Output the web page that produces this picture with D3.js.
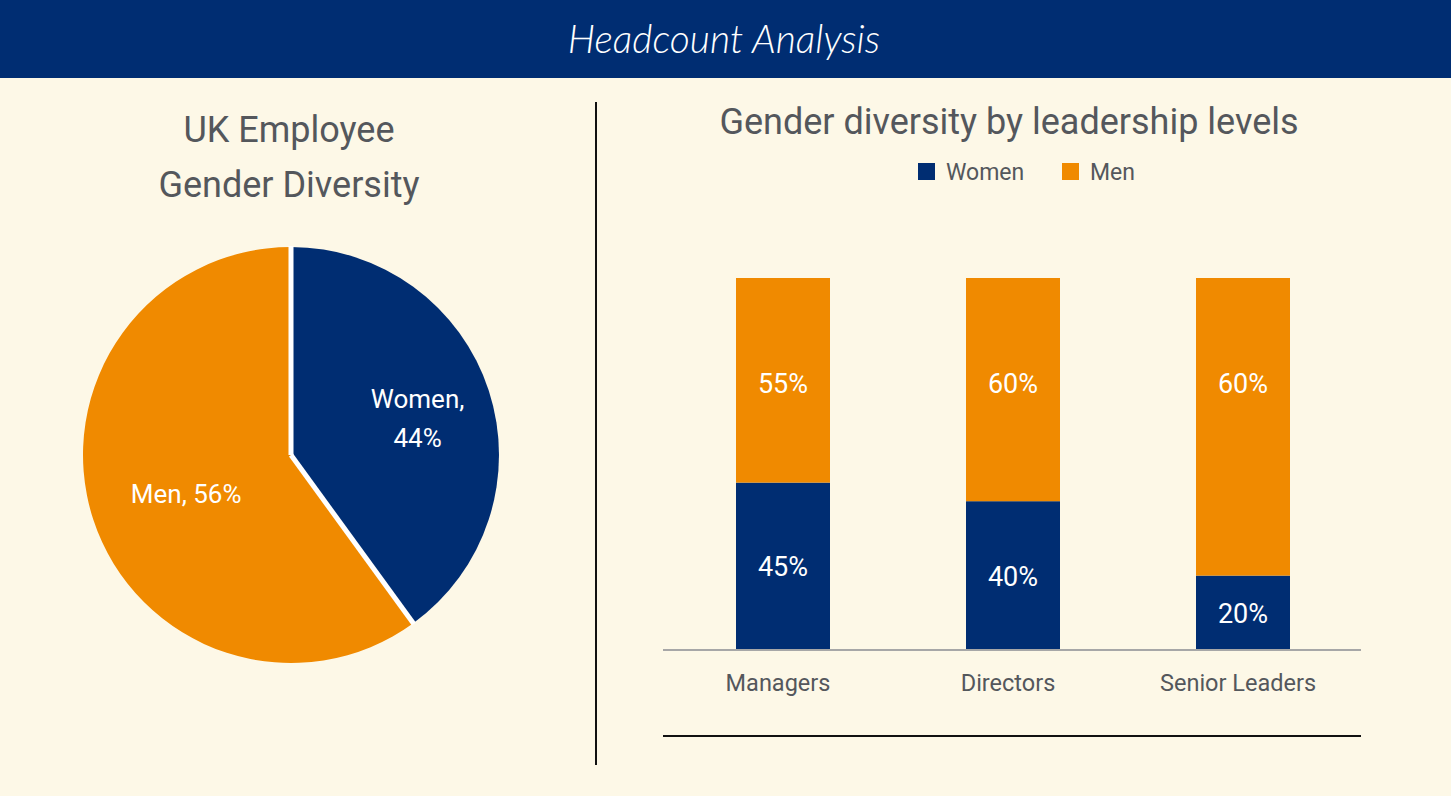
<!DOCTYPE html>
<html>
<head>
<meta charset="utf-8">
<script src="https://cdn.jsdelivr.net/npm/d3@7"></script>
<style>
  html, body { margin: 0; padding: 0; background: #fdf8e7; }
  svg { display: block; }
  text { font-family: Roboto, "Noto Sans", sans-serif; }
</style>
</head>
<body>
<svg id="chart" width="1451" height="796"></svg>
<script>
// pie: share drawn for each slice, and the labels shown on it
const pieNames = ["Women", "Men"];
const pieValues = [40, 60];
const pieLabels = [["Women,", "44%"], ["Men, 56%"]];

// stacked bars by leadership level
const levels = ["Managers", "Directors", "Senior Leaders"];
const women = [45, 40, 20];
const men = [55, 60, 80];
const womenLabels = ["45%", "40%", "20%"];
const menLabels = ["55%", "60%", "60%"];

const navy = "#002d72";
const orange = "#f08a00";
const grey = "#54575c";

const svg = d3.select("#chart");
const W = 1451, H = 796;

svg.append("rect").attr("width", W).attr("height", H).attr("fill", "#fdf8e7");

// header band
svg.append("rect").attr("x", 0).attr("y", 0).attr("width", W).attr("height", 78).attr("fill", navy);
svg.append("text")
  .attr("x", 724).attr("y", 53)
  .attr("text-anchor", "middle")
  .attr("fill", "#fff")
  .style("font-family", "Lato, sans-serif")
  .style("font-style", "italic")
  .style("font-weight", 300)
  .style("font-size", "39px")
  .text("Headcount Analysis");

// divider lines
svg.append("line").attr("x1", 596).attr("x2", 596).attr("y1", 102).attr("y2", 765)
  .attr("stroke", "#111").attr("stroke-width", 2);
svg.append("line").attr("x1", 663).attr("x2", 1361).attr("y1", 736).attr("y2", 736)
  .attr("stroke", "#111").attr("stroke-width", 2);

// ---- pie ----
const leftTitle = svg.append("text")
  .attr("text-anchor", "middle").attr("fill", grey).style("font-size", "36px");
leftTitle.append("tspan").attr("x", 289).attr("y", 142).text("UK Employee");
leftTitle.append("tspan").attr("x", 289).attr("y", 197).text("Gender Diversity");

const cx = 291, cy = 455, r = 208;
const pieData = pieNames.map((n, i) => ({ name: n, value: pieValues[i], label: pieLabels[i] }));
const pie = d3.pie().value(d => d.value).sort(null);
const arc = d3.arc().innerRadius(0).outerRadius(r);
const g = svg.append("g").attr("transform", `translate(${cx},${cy})`);
const arcs = pie(pieData);
g.selectAll("path").data(arcs).enter().append("path")
  .attr("d", arc)
  .attr("fill", (d, i) => i === 0 ? navy : orange);

// white separators between slices (none on the rim)
g.selectAll("line.sep").data(arcs).enter().append("line")
  .attr("class", "sep")
  .attr("x1", 0).attr("y1", 0)
  .attr("x2", d => Math.sin(d.startAngle) * (r + 1))
  .attr("y2", d => -Math.cos(d.startAngle) * (r + 1))
  .attr("stroke", "#fff").attr("stroke-width", 5);

const labelRadius = [0.64, 0.53];
arcs.forEach((d, i) => {
  const mid = (d.startAngle + d.endAngle) / 2;
  const lr = r * labelRadius[i];
  const c = [Math.sin(mid) * lr, -Math.cos(mid) * lr];
  const lines = d.data.label;
  const t = g.append("text").attr("text-anchor", "middle").attr("fill", "#fff").style("font-size", "26px");
  lines.forEach((ln, k) => {
    t.append("tspan").attr("x", c[0])
      .attr("y", c[1] + 14 + (k - (lines.length - 1) / 2) * 39)
      .text(ln);
  });
});

// ---- stacked bars ----
svg.append("text").attr("x", 1009).attr("y", 134).attr("text-anchor", "middle")
  .attr("fill", grey).style("font-size", "36px").text("Gender diversity by leadership levels");

// legend
const legend = [{ name: "Women", color: navy, x: 918 }, { name: "Men", color: orange, x: 1062 }];
legend.forEach(l => {
  svg.append("rect").attr("x", l.x).attr("y", 163).attr("width", 17).attr("height", 17).attr("fill", l.color);
  svg.append("text").attr("x", l.x + 28).attr("y", 180).attr("fill", grey).style("font-size", "23px").text(l.name);
});

const x = d3.scaleBand().domain(levels).range([668, 1358]);
const y = d3.scaleLinear().domain([0, 100]).range([650, 278]);
const barW = 94;

const rows = levels.map((lv, i) => ({ lv, women: women[i], men: men[i], wl: womenLabels[i], ml: menLabels[i] }));
const stack = d3.stack().keys(["women", "men"])(rows);
const cxBar = lv => x(lv) + x.bandwidth() / 2;

const bars = svg.append("g");
stack.forEach(layer => {
  bars.selectAll(null).data(layer).enter().append("rect")
    .attr("x", d => cxBar(d.data.lv) - barW / 2)
    .attr("width", barW)
    .attr("y", d => y(d[1]))
    .attr("height", d => y(d[0]) - y(d[1]))
    .attr("fill", layer.key === "women" ? navy : orange);
});

// value labels
stack[0].forEach(d => {
  svg.append("text").attr("x", cxBar(d.data.lv))
    .attr("y", (y(d[0]) + y(d[1])) / 2 + 10)
    .attr("text-anchor", "middle").attr("fill", "#fff").style("font-size", "27px").text(d.data.wl);
});
stack[1].forEach(d => {
  svg.append("text").attr("x", cxBar(d.data.lv))
    .attr("y", y(100) + 105 + 10)
    .attr("text-anchor", "middle").attr("fill", "#fff").style("font-size", "27px").text(d.data.ml);
});

// axis
svg.append("line").attr("x1", 663).attr("x2", 1361).attr("y1", 650).attr("y2", 650)
  .attr("stroke", "#a7a7a7").attr("stroke-width", 2);
const axis = svg.append("g").attr("transform", "translate(0,650)")
  .call(d3.axisBottom(x).tickSize(0).tickPadding(24));
axis.select(".domain").remove();
axis.selectAll(".tick text").attr("fill", grey).style("font-size", "23.5px")
  .style("font-family", "Roboto, sans-serif").attr("dx", -5);
</script>
</body>
</html>
